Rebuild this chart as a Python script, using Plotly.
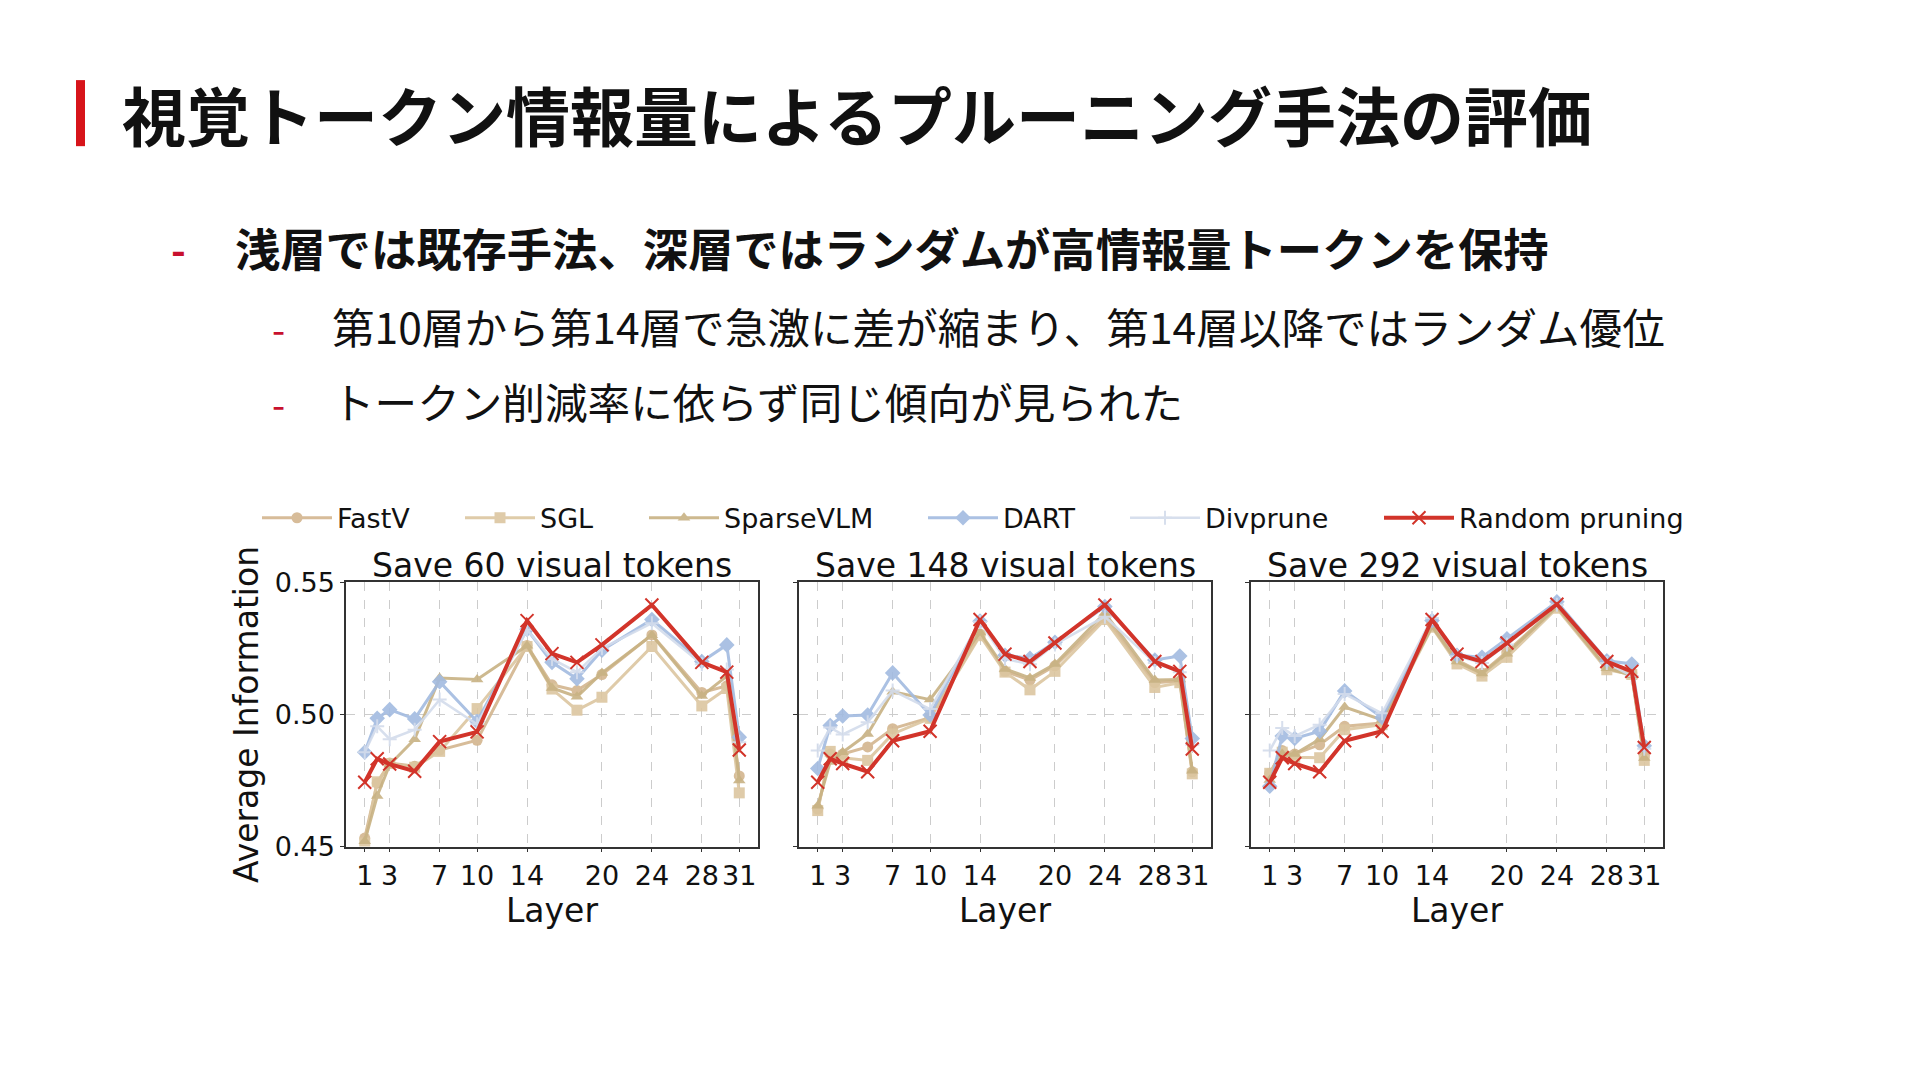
import plotly.graph_objects as go

W, H = 1920, 1082

# ---------------- data ----------------
layers = [1, 2, 3, 5, 7, 10, 14, 16, 18, 20, 24, 28, 30, 31]
tick_layers = [1, 3, 7, 10, 14, 20, 24, 28, 31]
y_ticks = [0.45, 0.50, 0.55]

methods = ["FastV", "SGL", "SparseVLM", "DART", "Divprune", "Random pruning"]
panel_titles = ["Save 60 visual tokens", "Save 148 visual tokens", "Save 292 visual tokens"]

fastv_60 = [0.4532, 0.4740, 0.4816, 0.4804, 0.4865, 0.4902, 0.5261, 0.5112, 0.5090, 0.5151, 0.5301, 0.5083, 0.5108, 0.4767]
sgl_60 = [0.4513, 0.4745, 0.4814, 0.4800, 0.4860, 0.5022, 0.5257, 0.5096, 0.5016, 0.5065, 0.5257, 0.5032, 0.5098, 0.4703]
sparse_60 = [0.4520, 0.4691, 0.4810, 0.4906, 0.5138, 0.5132, 0.5260, 0.5100, 0.5067, 0.5157, 0.5300, 0.5070, 0.5145, 0.4750]
dart_60 = [0.4857, 0.4985, 0.5018, 0.4983, 0.5124, 0.4973, 0.5322, 0.5197, 0.5135, 0.5243, 0.5359, 0.5200, 0.5263, 0.4914]
div_60 = [0.4857, 0.4955, 0.4906, 0.4942, 0.5056, 0.4963, 0.5320, 0.5210, 0.5160, 0.5250, 0.5345, 0.5190, 0.5170, 0.4895]
rand_60 = [0.4743, 0.4832, 0.4812, 0.4785, 0.4897, 0.4934, 0.5355, 0.5230, 0.5197, 0.5263, 0.5414, 0.5197, 0.5160, 0.4865]

fastv_148 = [0.4642, 0.4850, 0.4850, 0.4877, 0.4946, 0.4988, 0.5304, 0.5163, 0.5130, 0.5184, 0.5365, 0.5120, 0.5126, 0.4783]
sgl_148 = [0.4636, 0.4860, 0.4836, 0.4826, 0.4926, 0.4985, 0.5298, 0.5160, 0.5093, 0.5163, 0.5359, 0.5102, 0.5120, 0.4775]
sparse_148 = [0.4654, 0.4820, 0.4857, 0.4926, 0.5086, 0.5056, 0.5310, 0.5172, 0.5138, 0.5191, 0.5384, 0.5130, 0.5132, 0.4787]
dart_148 = [0.4795, 0.4958, 0.4994, 0.4998, 0.5157, 0.4998, 0.5353, 0.5224, 0.5212, 0.5273, 0.5408, 0.5206, 0.5221, 0.4909]
div_148 = [0.4863, 0.4950, 0.4924, 0.4970, 0.5090, 0.5020, 0.5350, 0.5210, 0.5190, 0.5265, 0.5370, 0.5195, 0.5160, 0.4885]
rand_148 = [0.4743, 0.4832, 0.4814, 0.4783, 0.4900, 0.4936, 0.5359, 0.5228, 0.5200, 0.5270, 0.5414, 0.5200, 0.5163, 0.4869]

fastv_292 = [0.4777, 0.4863, 0.4850, 0.4885, 0.4955, 0.4967, 0.5335, 0.5206, 0.5157, 0.5237, 0.5408, 0.5175, 0.5157, 0.4844]
sgl_292 = [0.4777, 0.4857, 0.4838, 0.4836, 0.4942, 0.4961, 0.5330, 0.5191, 0.5145, 0.5216, 0.5402, 0.5169, 0.5151, 0.4826]
sparse_292 = [0.4752, 0.4850, 0.4850, 0.4906, 0.5028, 0.4979, 0.5332, 0.5200, 0.5155, 0.5230, 0.5408, 0.5175, 0.5148, 0.4835]
dart_292 = [0.4728, 0.4918, 0.4909, 0.4936, 0.5089, 0.4988, 0.5355, 0.5224, 0.5216, 0.5286, 0.5426, 0.5203, 0.5191, 0.4881]
div_292 = [0.4863, 0.4949, 0.4918, 0.4961, 0.5077, 0.5004, 0.5365, 0.5220, 0.5195, 0.5265, 0.5415, 0.5195, 0.5145, 0.4870]
rand_292 = [0.4743, 0.4836, 0.4814, 0.4783, 0.4900, 0.4936, 0.5359, 0.5228, 0.5200, 0.5270, 0.5417, 0.5200, 0.5163, 0.4875]

panels = [
    [fastv_60, sgl_60, sparse_60, dart_60, div_60, rand_60],
    [fastv_148, sgl_148, sparse_148, dart_148, div_148, rand_148],
    [fastv_292, sgl_292, sparse_292, dart_292, div_292, rand_292],
]

slide_title = "視覚トークン情報量によるプルーニング手法の評価"
bullet_main = "浅層では既存手法、深層ではランダムが高情報量トークンを保持"
bullet_subs = ["第10層から第14層で急激に差が縮まり、第14層以降ではランダム優位",
               "トークン削減率に依らず同じ傾向が見られた"]

# ---------------- styles ----------------
colors = ["#D3B58E", "#DCC6A0", "#C8B283", "#A2BBE0", "#D3DCEC", "#D2342A"]
symbols = ["circle", "square", "triangle-up", "diamond", "cross-thin", "x-thin"]
line_w = [3, 3, 3, 3, 2.5, 4]
marker_sz = [11, 11, 11, 12, 10, 13]
legend_w = [118, 99, 194, 117, 169, 230]

def px(x):
    return x / W

def py(y):
    return 1 - y / H

x_domains = [(346, 758), (799, 1211), (1251, 1663)]
y_dom = [py(855), py(583)]

fig = go.Figure()
CHART_FONT = "DejaVu Sans"

for p, series in enumerate(panels):
    xa = "x" if p == 0 else f"x{p+1}"
    ya = "y" if p == 0 else f"y{p+1}"
    for i, vals in enumerate(series):
        is_x = symbols[i].endswith("thin")
        fig.add_trace(go.Scatter(
            x=layers, y=vals, xaxis=xa, yaxis=ya,
            mode="lines+markers", name=methods[i], legendgroup=methods[i],
            showlegend=(p == 0), legendwidth=legend_w[i],
            line=dict(color=colors[i], width=line_w[i]),
            marker=dict(symbol=symbols[i], size=marker_sz[i], color=colors[i],
                        line=dict(color=colors[i], width=2 if is_x else 0)),
            opacity=1.0 if i == 5 else 0.9,
        ))

axis_common = dict(
    showline=True, linecolor="#333333", linewidth=1.5, mirror=True,
    ticks="outside", ticklen=4, tickwidth=1.3, tickcolor="#333333",
    showgrid=True, gridcolor="#cccccc", gridwidth=1, griddash="dash",
    zeroline=False, tickfont=dict(family=CHART_FONT, size=27, color="#111111"),
)

layout_axes = {}
for p in range(3):
    xk = "xaxis" if p == 0 else f"xaxis{p+1}"
    yk = "yaxis" if p == 0 else f"yaxis{p+1}"
    ya = "y" if p == 0 else f"y{p+1}"
    xa = "x" if p == 0 else f"x{p+1}"
    layout_axes[xk] = dict(
        axis_common, domain=[px(x_domains[p][0]), px(x_domains[p][1])], anchor=ya,
        range=[-0.5, 32.5], tickmode="array", tickvals=tick_layers,
        title=dict(text="Layer", font=dict(family=CHART_FONT, size=33, color="#111111"), standoff=2),
    )
    layout_axes[yk] = dict(
        axis_common, domain=y_dom, anchor=xa, range=[0.45, 0.55],
        tickmode="array", tickvals=y_ticks, tickformat=".2f",
        showticklabels=(p == 0),
    )
layout_axes["yaxis"]["title"] = dict(text="Average Information",
                                     font=dict(family=CHART_FONT, size=33, color="#111111"), standoff=6)

annotations = []
for p in range(3):
    cx = (x_domains[p][0] + x_domains[p][1]) / 2
    annotations.append(dict(x=px(cx), y=py(566), xref="paper", yref="paper", text=panel_titles[p],
                            showarrow=False, xanchor="center", yanchor="middle",
                            font=dict(family=CHART_FONT, size=33, color="#111111")))

JP = "Noto Sans CJK JP"
annotations.append(dict(x=px(120), y=py(100), xref="paper", yref="paper", text=slide_title,
                        showarrow=False, xanchor="left", yanchor="middle",
                        font=dict(family=JP, size=64, color="#111111", weight=700)))
annotations.append(dict(x=px(178), y=py(239), xref="paper", yref="paper", text="-",
                        showarrow=False, xanchor="center", yanchor="middle",
                        font=dict(family=JP, size=40, color="#C8102E", weight=700)))
annotations.append(dict(x=px(233), y=py(238), xref="paper", yref="paper", text=bullet_main,
                        showarrow=False, xanchor="left", yanchor="middle",
                        font=dict(family=JP, size=45.3, color="#111111", weight=700)))
for k, (ty, txt) in enumerate(zip([319, 396], bullet_subs)):
    annotations.append(dict(x=px(278), y=py(ty + 2), xref="paper", yref="paper", text="-",
                            showarrow=False, xanchor="center", yanchor="middle",
                            font=dict(family=JP, size=38, color="#C8102E")))
    annotations.append(dict(x=px(330), y=py(ty), xref="paper", yref="paper", text=txt,
                            showarrow=False, xanchor="left", yanchor="middle",
                            font=dict(family=JP, size=42.6, color="#111111")))

shapes = [dict(type="rect", xref="paper", yref="paper", x0=px(76), x1=px(85), y0=py(134), y1=py(66),
               fillcolor="#D7141A", line=dict(width=0))]

fig.update_layout(
    width=W, height=H, margin=dict(l=0, r=0, t=0, b=0),
    paper_bgcolor="white", plot_bgcolor="white",
    showlegend=True,
    legend=dict(orientation="h", x=px(257), y=py(517), xanchor="left", yanchor="middle",
                itemwidth=70, font=dict(family=CHART_FONT, size=27, color="#111111"),
                bgcolor="rgba(0,0,0,0)", borderwidth=0, tracegroupgap=0),
    annotations=annotations, shapes=shapes,
    **layout_axes,
)

fig.write_html("out.html", include_plotlyjs=True, config={"displayModeBar": False},
               post_script="document.body.style.margin='0';document.body.style.overflow='hidden';")
